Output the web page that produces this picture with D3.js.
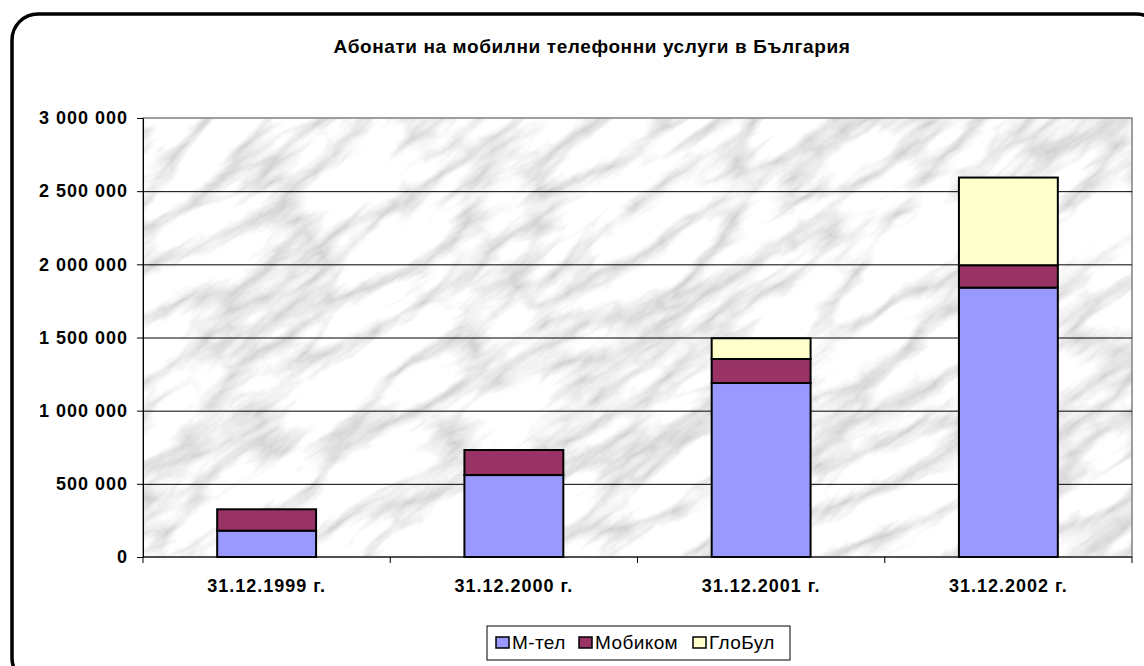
<!DOCTYPE html>
<meta charset="utf-8">
<style>
body { margin: 0; background: #fff; }
text { font-family: "Liberation Sans", Arial, sans-serif; }
</style>
<svg width="1144" height="666"></svg>
<script src="https://d3js.org/d3.v7.min.js"></script>
<script>

var categories = ["31.12.1999 г.", "31.12.2000 г.", "31.12.2001 г.", "31.12.2002 г."];
var seriesNames = ["М-тел", "Мобиком", "ГлоБул"];
var seriesColors = ["#9999ff", "#993366", "#ffffcc"];
var mtel    = [180000, 560000, 1189000, 1841000];
var mobikom = [146000, 171000, 164000, 153000];
var globul  = [0, 0, 142000, 599000];
var yTicks  = [0, 500000, 1000000, 1500000, 2000000, 2500000, 3000000];

var svg = d3.select("svg");

var plot = {left: 143, top: 118, right: 1132, bottom: 557};

// outer rounded frame (cropped on the right and bottom)
svg.append("rect")
   .attr("x", 12).attr("y", 14)
   .attr("width", 1150).attr("height", 670)
   .attr("rx", 26).attr("ry", 26)
   .attr("fill", "#fff")
   .attr("stroke", "#000")
   .attr("stroke-width", 3.5);

svg.append("text")
   .attr("x", 592).attr("y", 53)
   .attr("text-anchor", "middle")
   .attr("font-size", "19px")
   .attr("font-weight", "bold")
   .attr("letter-spacing", "0.6px")
   .text("Абонати на мобилни телефонни услуги в България");

// marble background
var defs = svg.append("defs");
var filt = defs.append("filter").attr("id", "marble")
   .attr("x", 0).attr("y", 0).attr("width", 1).attr("height", 1);
filt.append("feTurbulence")
   .attr("type", "turbulence")
   .attr("baseFrequency", "0.007 0.022")
   .attr("numOctaves", 6)
   .attr("seed", 11);
filt.append("feColorMatrix")
   .attr("type", "matrix")
   .attr("values", "1 0 0 0 0.6  1 0 0 0 0.6  1 0 0 0 0.6  0 0 0 0 1");
defs.append("clipPath").attr("id", "plotclip")
   .append("rect")
   .attr("x", plot.left).attr("y", plot.top)
   .attr("width", plot.right - plot.left).attr("height", plot.bottom - plot.top);

svg.append("g").attr("clip-path", "url(#plotclip)")
   .append("rect")
   .attr("x", -300).attr("y", -300)
   .attr("width", 1800).attr("height", 1400)
   .attr("transform", "rotate(-35 640 340)")
   .attr("filter", "url(#marble)");

svg.append("rect")
   .attr("x", plot.left).attr("y", plot.top)
   .attr("width", plot.right - plot.left).attr("height", plot.bottom - plot.top)
   .attr("fill", "none")
   .attr("stroke", "#808080")
   .attr("stroke-width", 1.5);

var x = d3.scaleBand()
   .domain(categories)
   .range([plot.left, plot.right])
   .paddingInner(0.6).paddingOuter(0.3);

var xOuter = d3.scaleBand()
   .domain(categories)
   .range([plot.left, plot.right]);

var y = d3.scaleLinear()
   .domain([0, 3000000])
   .range([plot.bottom, plot.top]);

// gridlines
svg.append("g").selectAll("line")
   .data(yTicks.slice(1, -1))
   .join("line")
   .attr("x1", plot.left).attr("x2", plot.right)
   .attr("y1", d => y(d) + 0.5).attr("y2", d => y(d) + 0.5)
   .attr("stroke", "#000").attr("stroke-width", 1);

var fmt = d => d3.format(",")(d).replace(/,/g, " ");

var yAxis = svg.append("g")
   .attr("transform", "translate(" + plot.left + ",0)")
   .call(d3.axisLeft(y).tickValues(yTicks).tickFormat(fmt).tickSize(6).tickPadding(9));
yAxis.select(".domain").attr("stroke", "#000");
yAxis.selectAll("text")
   .attr("font-size", "18px").attr("font-weight", "bold")
   .attr("font-family", "Liberation Sans, Arial, sans-serif")
   .attr("letter-spacing", "1px")
   .attr("fill", "#000");

// x axis baseline and ticks
svg.append("line")
   .attr("x1", plot.left).attr("x2", plot.right)
   .attr("y1", plot.bottom).attr("y2", plot.bottom)
   .attr("stroke", "#000");
svg.append("g").selectAll("line")
   .data(categories.concat(["end"]))
   .join("line")
   .attr("x1", (d, i) => i < 4 ? xOuter(d) : plot.right)
   .attr("x2", (d, i) => i < 4 ? xOuter(d) : plot.right)
   .attr("y1", plot.bottom).attr("y2", plot.bottom + 6)
   .attr("stroke", "#000");
svg.append("g").selectAll("text")
   .data(categories)
   .join("text")
   .attr("x", d => xOuter(d) + xOuter.bandwidth() / 2)
   .attr("y", 592)
   .attr("text-anchor", "middle")
   .attr("font-size", "18px").attr("font-weight", "bold")
   .attr("letter-spacing", "1px")
   .text(d => d);

// stacked bars
var rows = categories.map((c, i) => ({cat: c, "М-тел": mtel[i], "Мобиком": mobikom[i], "ГлоБул": globul[i]}));
var stack = d3.stack().keys(seriesNames)(rows);

svg.append("g").selectAll("g")
   .data(stack)
   .join("g")
   .attr("fill", (d, i) => seriesColors[i])
   .selectAll("rect")
   .data(d => d.filter(p => p[1] > p[0]))
   .join("rect")
   .attr("x", d => x(d.data.cat))
   .attr("width", x.bandwidth())
   .attr("y", d => y(d[1]))
   .attr("height", d => y(d[0]) - y(d[1]))
   .attr("stroke", "#000")
   .attr("stroke-width", 2);

// legend
var lg = svg.append("g");
lg.append("rect")
   .attr("x", 487).attr("y", 626)
   .attr("width", 303).attr("height", 34)
   .attr("fill", "#fff")
   .attr("stroke", "#000").attr("stroke-width", 1);
var legX = [496, 579, 693];
var items = lg.selectAll("g.item")
   .data(seriesNames)
   .join("g").attr("class", "item")
   .attr("transform", (d, i) => "translate(" + legX[i] + ",637)");
items.append("rect")
   .attr("width", 13).attr("height", 11)
   .attr("fill", (d, i) => seriesColors[i])
   .attr("stroke", "#000").attr("stroke-width", 1.5);
items.append("text")
   .attr("x", 16).attr("y", 12)
   .attr("font-size", "19px")
   .attr("letter-spacing", "0.4px")
   .text(d => d);

</script>
